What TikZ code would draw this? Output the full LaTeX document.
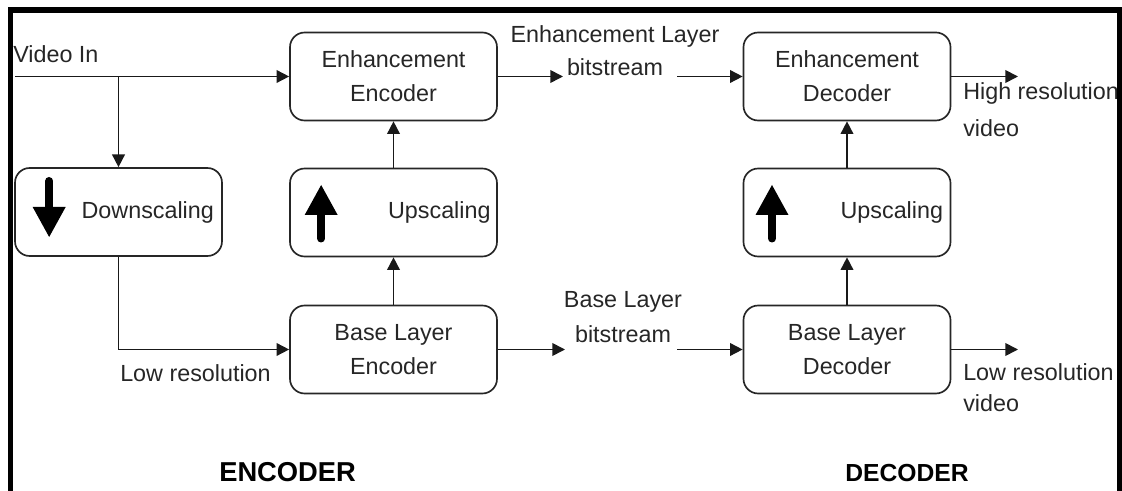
\documentclass[tikz,border=0pt]{standalone}
\usepackage{fontspec}
\setmainfont{Liberation Sans}
\usetikzlibrary{arrows.meta}
\begin{document}
\begin{tikzpicture}[x=0.75pt, y=-0.75pt,
  blk/.style={draw=black!85, line width=1.25pt, rounded corners=11pt,
    minimum width=155.25pt, minimum height=66pt, inner sep=0pt,
    align=center, font=\fontsize{17.5}{25.5}\selectfont, text=black!85},
  lbl/.style={inner sep=0pt, font=\fontsize{17.5}{25.5}\selectfont, text=black!85},
  conn/.style={draw=black!90, line width=1.25pt},
  arr/.style={conn, -{Triangle[length=9.5pt,width=9.5pt]}},
  title/.style={inner sep=0pt, text=black},
  uparrow/.pic={
    \draw[line width=6pt, line cap=round] (0,26) -- (0,0);
    \fill (-16.5,2.5) -- (16.5,2.5) -- (0,-27.5) -- cycle;
  },
  downarrow/.pic={
    \draw[line width=6pt, line cap=round] (0,-31) -- (0,-3);
    \fill (-16.5,-5) -- (16.5,-5) -- (0,25) -- cycle;
  },
]
\useasboundingbox (0,0) rectangle (1122,491);

% processing blocks
\node[blk] (ee) at (393.5,76.5)  {Enhancement\\Encoder};
\node[blk] (ue) at (393.5,212.5) {};
\node[blk] (be) at (393.5,349.5) {Base Layer\\Encoder};
\node[blk] (ds) at (118.5,212)   {};
\node[blk] (ed) at (847,76.5)    {Enhancement\\Decoder};
\node[blk] (ud) at (847,212.5)   {};
\node[blk] (bd) at (847,349.5)   {Base Layer\\Decoder};

% scaling blocks: icon on the left, caption on the right
\node[lbl, anchor=east] (ds-t) at ([xshift=-6.5pt]ds.east) {Downscaling};
\node[lbl, anchor=east] (ue-t) at ([xshift=-5.25pt]ue.east) {Upscaling};
\node[lbl, anchor=east] (ud-t) at ([xshift=-6pt]ud.east) {Upscaling};
\pic at ([xshift=26.25pt]ds.west) {downarrow};
\pic at ([xshift=24pt]ue.west) {uparrow};
\pic at ([xshift=22pt]ud.west) {uparrow};

% free ends of the connectors
\coordinate (vin)     at (15,76.5);
\coordinate (split)   at (118.5,76.5);
\coordinate (elb-in)  at (563,76.5);
\coordinate (elb-out) at (677,76.5);
\coordinate (blb-in)  at (565,349.5);
\coordinate (blb-out) at (677,349.5);
\coordinate (hr-out)  at (1018,76.5);
\coordinate (lr-out)  at (1018,349.5);

% encoder side
\draw[arr] (vin) -- (ee.west);
\draw[arr] (split) -- (ds.north);
\draw[arr] (ds.south) |- (be.west);
\draw[arr] (be.north) -- (ue.south);
\draw[arr] (ue.north) -- (ee.south);

% bitstreams
\draw[arr] (ee.east) -- (elb-in);
\draw[arr] (elb-out) -- (ed.west);
\draw[arr] (be.east) -- (blb-in);
\draw[arr] (blb-out) -- (bd.west);

% decoder side
\draw[arr] (bd.north) -- (ud.south);
\draw[arr] (ud.north) -- (ed.south);
\draw[arr] (ed.east) -- (hr-out);
\draw[arr] (bd.east) -- (lr-out);

% labels
\node[lbl, anchor=base west] (vin-t) at (13,63) {Video In};
\node[lbl, align=center, font=\fontsize{17.5}{24.75}\selectfont] (elb) at (615,51) {Enhancement Layer\\bitstream};
\node[lbl, align=center, font=\fontsize{17.5}{26.25}\selectfont] (blb) at (623,317) {Base Layer\\bitstream};
\node[lbl, align=left, anchor=west, font=\fontsize{17.5}{27.75}\selectfont] (hr) at (963,110) {High resolution\\video};
\node[lbl, align=left, anchor=west, font=\fontsize{17.5}{23}\selectfont] (lrv) at (963,387.5) {Low resolution\\video};
\node[lbl, anchor=base west] (lr-t) at (120,382) {Low resolution};
\node[title, anchor=base west, font=\fontsize{20.5}{24}\selectfont\bfseries] (enc) at (219,482) {ENCODER};
\node[title, anchor=base west, font=\fontsize{18.5}{22}\selectfont\bfseries] (dec) at (845,482) {DECODER};

% frame
\draw[line width=4pt, black] (10.5,491) -- (10.5,10) -- (1120,10) -- (1120,491);
\end{tikzpicture}
\end{document}
